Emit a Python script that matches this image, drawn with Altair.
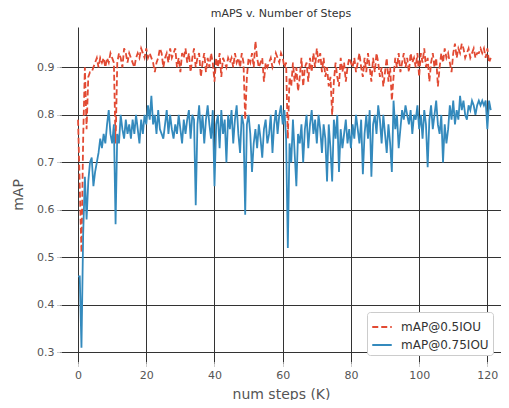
import altair as alt
import pandas as pd

steps = [i * 0.5 for i in range(243)]  # 0 .. 121 K

map50 = [
    0.79, 0.65, 0.51, 0.75, 0.90, 0.77, 0.88, 0.89, 0.89, 0.90,
    0.91, 0.92, 0.90, 0.92, 0.91, 0.92, 0.90, 0.92, 0.91, 0.93,
    0.92, 0.91, 0.74, 0.91, 0.93, 0.92, 0.90, 0.94, 0.93, 0.91,
    0.93, 0.92, 0.91, 0.90, 0.92, 0.93, 0.92, 0.94, 0.93, 0.92,
    0.94, 0.92, 0.93, 0.92, 0.91, 0.89, 0.91, 0.92, 0.94, 0.93,
    0.90, 0.92, 0.93, 0.91, 0.94, 0.92, 0.93, 0.94, 0.90, 0.92,
    0.89, 0.93, 0.92, 0.94, 0.91, 0.93, 0.89, 0.92, 0.94, 0.90,
    0.92, 0.93, 0.88, 0.91, 0.93, 0.89, 0.92, 0.90, 0.93, 0.91,
    0.87, 0.92, 0.90, 0.93, 0.88, 0.92, 0.91, 0.90, 0.92, 0.91,
    0.92, 0.90, 0.93, 0.91, 0.92, 0.90, 0.93, 0.91, 0.79, 0.88,
    0.92, 0.91, 0.93, 0.90, 0.955, 0.92, 0.90, 0.91, 0.92, 0.87,
    0.91, 0.90, 0.91, 0.92, 0.90, 0.91, 0.93, 0.92, 0.91, 0.93,
    0.92, 0.90, 0.91, 0.75, 0.88, 0.86, 0.91, 0.87, 0.90, 0.85,
    0.88, 0.92, 0.86, 0.90, 0.91, 0.87, 0.92, 0.89, 0.93, 0.90,
    0.94, 0.91, 0.93, 0.89, 0.92, 0.88, 0.90, 0.86, 0.88, 0.80,
    0.87, 0.91, 0.88, 0.86, 0.92, 0.89, 0.91, 0.87, 0.90, 0.92,
    0.91, 0.90, 0.92, 0.89, 0.91, 0.93, 0.90, 0.88, 0.92, 0.89,
    0.93, 0.90, 0.87, 0.92, 0.89, 0.93, 0.91, 0.88, 0.90, 0.86,
    0.89, 0.92, 0.87, 0.90, 0.83, 0.88, 0.92, 0.90, 0.93, 0.89,
    0.91, 0.93, 0.90, 0.92, 0.89, 0.93, 0.91, 0.92, 0.90, 0.93,
    0.88, 0.93, 0.91, 0.94, 0.90, 0.92, 0.87, 0.91, 0.93, 0.90,
    0.92, 0.86, 0.90, 0.93, 0.91, 0.94, 0.92, 0.93, 0.91, 0.89,
    0.93, 0.95, 0.92, 0.94, 0.93, 0.95, 0.94, 0.92, 0.93, 0.94,
    0.92, 0.93, 0.94, 0.92, 0.93, 0.93, 0.94, 0.93, 0.94, 0.92,
    0.94, 0.91, 0.92,
]

map75 = [
    0.46, 0.46, 0.31, 0.55, 0.67, 0.58, 0.66, 0.70, 0.71, 0.65,
    0.68, 0.70, 0.72, 0.75, 0.73, 0.76, 0.74, 0.78, 0.81, 0.76,
    0.74, 0.78, 0.57, 0.76, 0.74, 0.80, 0.77, 0.75, 0.79, 0.76,
    0.78, 0.75, 0.79, 0.76, 0.80, 0.77, 0.74, 0.79, 0.76, 0.80,
    0.78, 0.82, 0.79, 0.84, 0.78, 0.80, 0.76, 0.81, 0.77, 0.76,
    0.75, 0.78, 0.81, 0.76, 0.80, 0.77, 0.75, 0.78, 0.76, 0.80,
    0.77, 0.74, 0.79, 0.76, 0.79, 0.81, 0.75, 0.80, 0.79, 0.61,
    0.78, 0.82, 0.76, 0.80, 0.74, 0.79, 0.82, 0.78, 0.75, 0.81,
    0.65, 0.78, 0.80, 0.73, 0.81, 0.76, 0.79, 0.70, 0.80, 0.77,
    0.81, 0.74, 0.79, 0.82, 0.76, 0.72, 0.80, 0.78, 0.59, 0.78,
    0.80, 0.76, 0.68, 0.74, 0.77, 0.73, 0.78, 0.75, 0.71, 0.77,
    0.79, 0.74, 0.76, 0.80, 0.72, 0.78, 0.81, 0.76, 0.80, 0.82,
    0.78, 0.81, 0.75, 0.52, 0.74, 0.70, 0.79, 0.72, 0.65, 0.76,
    0.74, 0.78, 0.70, 0.77, 0.80, 0.73, 0.78, 0.81, 0.76, 0.79,
    0.74, 0.80, 0.77, 0.72, 0.78, 0.75, 0.66, 0.78, 0.73, 0.66,
    0.79, 0.75, 0.80, 0.68, 0.77, 0.73, 0.76, 0.79, 0.74, 0.77,
    0.73, 0.78, 0.75, 0.80, 0.77, 0.74, 0.79, 0.675, 0.76, 0.80,
    0.75, 0.81, 0.67, 0.78, 0.80, 0.76, 0.82, 0.79, 0.74, 0.80,
    0.76, 0.72, 0.78, 0.74, 0.68, 0.83, 0.77, 0.80, 0.73, 0.77,
    0.81, 0.79, 0.82, 0.80, 0.78, 0.81, 0.76, 0.80, 0.79, 0.82,
    0.77, 0.80, 0.75, 0.81, 0.78, 0.69, 0.79, 0.82, 0.77, 0.80,
    0.83, 0.78, 0.76, 0.80, 0.70, 0.78, 0.74, 0.77, 0.82, 0.79,
    0.83, 0.78, 0.81, 0.79, 0.84, 0.81, 0.83, 0.80, 0.79, 0.82,
    0.81, 0.83, 0.82, 0.80, 0.82, 0.83, 0.82, 0.83, 0.82, 0.83,
    0.77, 0.83, 0.81,
]

series_names = ["mAP@0.5IOU", "mAP@0.75IOU"]
series_colors = ["#E24A33", "#348ABD"]
x_ticks = [0, 20, 40, 60, 80, 100, 120]
y_ticks = [0.3, 0.4, 0.5, 0.6, 0.7, 0.8, 0.9]

df = pd.concat([
    pd.DataFrame({"step": steps, "mAP": map50, "series": series_names[0]}),
    pd.DataFrame({"step": steps, "mAP": map75, "series": series_names[1]}),
])

chart = alt.Chart(df).mark_line(strokeWidth=1.8, clip=True).encode(
    x=alt.X("step:Q", title="num steps (K)",
            scale=alt.Scale(domain=[-5, 124], nice=False, zero=False),
            axis=alt.Axis(values=x_ticks, format="d")),
    y=alt.Y("mAP:Q", title="mAP",
            scale=alt.Scale(domain=[0.28, 0.985], nice=False, zero=False),
            axis=alt.Axis(values=y_ticks, format=".1f")),
    color=alt.Color("series:N", sort=series_names,
                    scale=alt.Scale(domain=series_names, range=series_colors),
                    legend=alt.Legend(title=None, orient="none", legendX=306, legendY=285,
                                      symbolType="stroke", symbolSize=380, symbolStrokeWidth=1.8,
                                      labelFontSize=12, labelColor="#333333", labelOffset=8,
                                      padding=4, fillColor="white", strokeColor="#cccccc",
                                      cornerRadius=3, rowPadding=1)),
    strokeDash=alt.StrokeDash("series:N", sort=series_names,
                              scale=alt.Scale(domain=series_names, range=[[6, 3], [1, 0]]),
                              legend=None),
    detail="series:N",
).properties(
    width=440, height=335,
    title=alt.Title("mAPS v. Number of Steps", fontSize=11, fontWeight="normal",
                    color="#333333", offset=8),
    autosize=alt.AutoSizeParams(type="none"),
    padding={"left": 53, "top": 19, "right": 0, "bottom": 38},
).configure(font="DejaVu Sans", background="white").configure_view(
    strokeWidth=0
).configure_axis(
    grid=True, gridColor="#333333", gridWidth=1, domain=False,
    tickColor="#999999", tickSize=4, tickDash=[2, 1],
    labelColor="#555555", labelFontSize=11, labelPadding=3,
    titleColor="#555555", titleFontSize=14, titleFontWeight="normal",
).configure_axisX(titlePadding=7).configure_axisY(titlePadding=11)

chart.save("out.html", embed_options={"renderer": "svg", "actions": False})
